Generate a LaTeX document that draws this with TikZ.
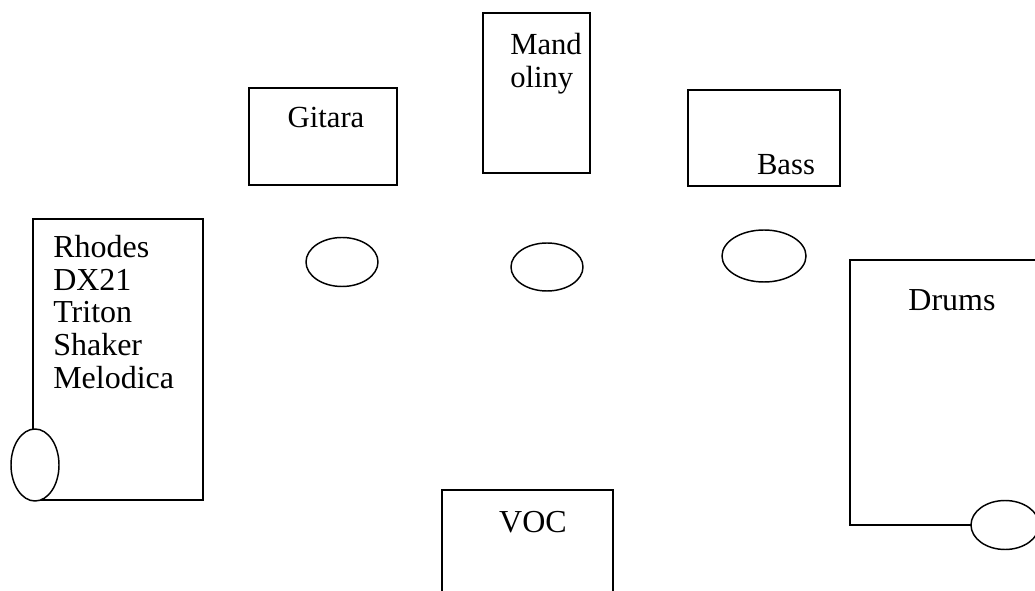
\documentclass[tikz,border=0pt]{standalone}
\usepackage{fontspec}
\setmainfont{Liberation Serif}
\begin{document}
\begin{tikzpicture}[x=0.75pt,y=-0.75pt,
  box/.style={draw=black,line width=1.5pt},
  seat/.style={draw=black,line width=1.1pt,fill=white},
  lbl/.style={inner sep=0pt,font=\fontsize{24}{24.4}\selectfont},
  toplbl/.style={inner sep=0pt,font=\fontsize{23}{25}\selectfont}]
\useasboundingbox (0,0) rectangle (1035,591);
\clip (0,0) rectangle (1035,591);
% Gitara
\draw[box] (249,88) rectangle (397,185);
\node[toplbl,anchor=base] (gitara) at (326,128) {Gitara};
% Mandoliny
\draw[box] (483,13) rectangle (590,173);
\node[toplbl,anchor=base west,align=left] (mand) at (510,88) {Mand\\oliny};
% Bass
\draw[box] (688,90) rectangle (840,186);
\node[toplbl,anchor=base] (bass) at (786,175) {Bass};
% seats
\draw[seat] (342,262) ellipse [x radius=36, y radius=24.5];
\draw[seat] (547,267) ellipse [x radius=36, y radius=24];
\draw[seat] (764,256) ellipse [x radius=42, y radius=26];
% Keys
\draw[box] (33,219) rectangle (203,500);
\node[lbl,anchor=base west,align=left] (keys) at (53,388)
  {Rhodes\\DX21\\Triton\\Shaker\\Melodica};
\draw[seat] (35,465) ellipse [x radius=24, y radius=36];
% Drums
\draw[box] (850,260) rectangle (1045,525);
\node[lbl,anchor=base] (drums) at (952,311) {Drums};
\draw[seat] (1005,525) ellipse [x radius=34, y radius=24.5];
% VOC
\draw[box] (442,490) rectangle (613,600);
\node[lbl,anchor=base] (voc) at (533,532) {VOC};
\end{tikzpicture}
\end{document}
